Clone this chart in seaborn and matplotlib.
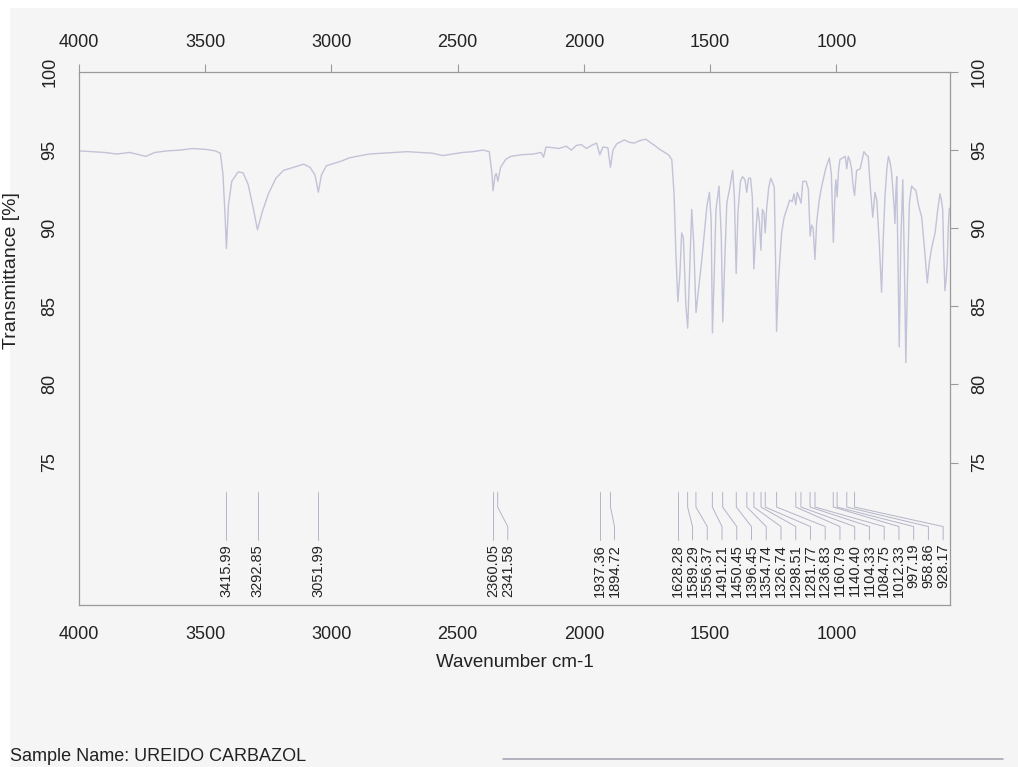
import matplotlib
matplotlib.use('Agg')
import matplotlib.pyplot as plt
import seaborn as sns
from matplotlib.patches import Rectangle
from matplotlib.lines import Line2D

# IR spectrum (wavenumber cm-1, transmittance %)
wavenumber = [
    4000, 3950, 3900, 3850, 3800, 3760, 3735, 3700, 3650, 3600, 3550, 3500,
    3460, 3440, 3430, 3422, 3416, 3408, 3395, 3370, 3350, 3330, 3310, 3293,
    3275, 3250, 3220, 3190, 3150, 3110, 3085, 3065, 3052, 3040, 3020, 2990,
    2960, 2930, 2900, 2850, 2800, 2750, 2700, 2650, 2600, 2560, 2520, 2480,
    2440, 2400, 2375, 2365, 2360, 2352, 2347, 2341, 2330, 2310, 2290, 2250,
    2200, 2170, 2160, 2150, 2120, 2100, 2070, 2050, 2030, 2010, 1990, 1970,
    1950, 1937, 1925, 1905, 1895, 1885, 1870, 1840, 1820, 1800, 1780, 1755,
    1738, 1720, 1700, 1685, 1665, 1652, 1643, 1636, 1628, 1620, 1613, 1606,
    1596, 1589, 1582, 1573, 1565, 1556, 1545, 1533, 1513, 1503, 1496, 1491,
    1484, 1477, 1465, 1456, 1450, 1442, 1434, 1421, 1411, 1404, 1397, 1390,
    1380, 1372, 1362, 1355, 1348, 1340, 1333, 1327, 1318, 1312, 1305, 1299,
    1293, 1287, 1282, 1276, 1268, 1260, 1252, 1246, 1241, 1237, 1230, 1217,
    1207, 1197, 1185, 1175, 1168, 1161, 1155, 1148, 1140, 1133, 1120, 1111,
    1104, 1098, 1092, 1085, 1078, 1068, 1058, 1041, 1028, 1020, 1012, 1005,
    1002, 997, 992, 986, 975, 965, 959, 953, 946, 940, 933, 928,
    920, 906, 891, 882, 874, 865, 856, 850, 847, 840, 830, 821,
    814, 807, 800, 794, 787, 781, 772, 768, 764, 761, 756, 751,
    745, 737, 731, 725, 718, 711, 702, 698, 690, 685, 675, 662,
    650, 640, 632, 623, 615, 609, 600, 590, 584, 579, 575, 570,
    565, 561, 557, 553, 550,
]
transmittance = [
    94.95, 94.9, 94.85, 94.75, 94.85, 94.7, 94.6, 94.85, 94.95, 95.0, 95.1, 95.05,
    94.95, 94.8, 93.5, 91.0, 88.7, 91.5, 93.0, 93.6, 93.55, 92.8, 91.3, 89.9,
    91.0, 92.2, 93.2, 93.7, 93.9, 94.1, 93.9, 93.4, 92.3, 93.4, 94.0, 94.15,
    94.3, 94.5, 94.6, 94.75, 94.8, 94.85, 94.9, 94.85, 94.8, 94.65, 94.75, 94.85,
    94.9, 95.0, 94.9, 93.6, 92.4, 93.4, 93.5, 93.0, 93.9, 94.4, 94.6, 94.7,
    94.75, 94.85, 94.55, 95.2, 95.15, 95.1, 95.25, 95.0, 95.3, 95.35, 95.1, 95.3,
    95.45, 94.7, 95.2, 95.15, 93.9, 95.0, 95.4, 95.65, 95.5, 95.45, 95.6, 95.7,
    95.5, 95.3, 95.05, 94.9, 94.7, 94.4, 92.2, 88.5, 85.3, 87.0, 89.7, 89.4,
    85.0, 83.6, 87.0, 91.2, 89.0, 84.6, 86.2, 88.0, 91.4, 92.3, 90.5, 83.3,
    87.0, 91.2, 92.7, 89.5, 84.0, 88.0, 91.6, 92.7, 93.7, 92.0, 87.1, 91.0,
    93.0, 93.3, 93.1, 92.3, 93.2, 93.2, 92.0, 87.4, 90.0, 91.3, 90.4, 88.6,
    91.2, 91.0, 89.7, 91.3, 92.6, 93.2, 92.9, 92.6, 88.0, 83.4, 86.5, 89.7,
    90.7, 91.2, 91.8, 91.7, 92.2, 91.5, 92.3, 92.0, 91.6, 93.0, 93.0, 92.5,
    89.5, 90.2, 90.0, 88.0, 90.4, 91.8, 92.7, 93.9, 94.5, 93.5, 89.1, 92.5,
    93.1, 92.0, 93.6, 94.4, 94.5, 94.6, 93.8, 94.6, 94.3, 93.8, 92.6, 92.1,
    93.7, 93.8, 94.9, 94.7, 94.6, 92.5, 90.7, 91.8, 92.3, 91.8, 89.0, 85.9,
    89.5, 92.2, 93.8, 94.6, 94.2, 93.5, 91.5, 90.3, 92.5, 93.3, 88.0, 82.4,
    89.0, 93.1, 88.0, 81.4, 87.0, 91.6, 92.7, 92.6, 92.5, 92.4, 91.5, 90.7,
    88.5, 86.5, 87.8, 88.7, 89.3, 89.7, 91.0, 92.2, 91.8, 91.2, 88.5, 86.0,
    86.8, 87.8, 90.0, 91.2, 91.3,
]

# picked peaks (labels at the bottom)
peaks = [
    3415.99, 3292.85, 3051.99, 2360.05, 2341.58, 1937.36, 1894.72,
    1628.28, 1589.29, 1556.37, 1491.21, 1450.45, 1396.45, 1354.74,
    1326.74, 1298.51, 1281.77, 1236.83, 1160.79, 1140.40, 1104.33,
    1084.75, 1012.33, 997.19, 958.86, 928.17,
]

x_ticks = [4000, 3500, 3000, 2500, 2000, 1500, 1000]
y_ticks = [75, 80, 85, 90, 95, 100]

bg = '#f5f5f5'
line_col = '#c2c2d8'
axis_col = '#9a9a9a'
text_col = '#222222'

sns.set_style('white', {'axes.facecolor': bg})
plt.rcParams['font.family'] = ['Liberation Sans', 'DejaVu Sans']

fig = plt.figure(figsize=(10.18, 7.67), dpi=100)
fig.patch.set_facecolor('white')
fig.add_artist(Rectangle((10 / 1018, 0), 1, 1 - 8 / 767, transform=fig.transFigure,
                         facecolor=bg, edgecolor='none', zorder=-10))

ax = fig.add_axes([79 / 1018, 162 / 767, 871 / 1018, 533 / 767])
ax.set_facecolor(bg)

sns.lineplot(x=wavenumber, y=transmittance, ax=ax, sort=False, estimator=None,
             color=line_col, linewidth=1.0)

ax.set_xlim(4000, 550)
ax.set_ylim(65.88, 100)
ax.set_xticks(x_ticks)
ax.set_yticks(y_ticks)
ax.tick_params(top=True, labeltop=True, right=True, labelright=True,
               direction='out', length=6, width=0.8, color=axis_col,
               labelsize=13, labelcolor=text_col, pad=9)
ax.tick_params(axis='y', labelrotation=90)
for t in ax.yaxis.get_major_ticks():
    t.label1.set_va('center')
    t.label2.set_va('center')
for s in ax.spines.values():
    s.set_visible(True)
    s.set_color(axis_col)
    s.set_linewidth(0.9)

ax.set_xlabel('Wavenumber cm-1', fontsize=13.5, color=text_col, labelpad=8)
ax.set_ylabel('Transmittance [%]', fontsize=14, color=text_col)
ax.yaxis.set_label_coords(-0.068, 0.628)

# spread the peak labels so they do not overlap
gap = 58.4
label_x = []
for w in peaks:
    if label_x and label_x[-1] - w < gap:
        label_x.append(label_x[-1] - gap)
    else:
        label_x.append(w)

for w, lx in zip(peaks, label_x):
    ax.plot([w, w, lx, lx], [73.1, 72.15, 70.9, 70.05], color='#b4b4c8', linewidth=0.7)
    ax.text(lx, 69.8, f'{w:.2f}', rotation=90, ha='center', va='top',
            fontsize=10.5, color=text_col)

fig.text(10 / 1018, 2 / 767, 'Sample Name: UREIDO CARBAZOL', ha='left', va='bottom',
         fontsize=13, color=text_col)
fig.add_artist(Line2D([503 / 1018, 1003 / 1018], [1 - 759 / 767, 1 - 759 / 767],
                      color='#a8a8b4', linewidth=1.2))

fig.savefig('out.png', dpi=100, facecolor=fig.get_facecolor())
